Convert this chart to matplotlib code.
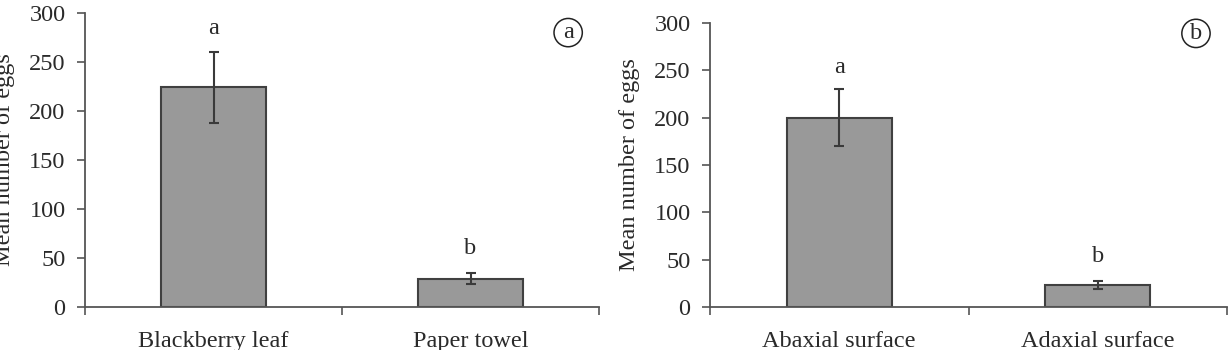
import matplotlib
matplotlib.use("Agg")
import matplotlib.pyplot as plt

# Panel a
cats_a = ["Blackberry leaf", "Paper towel"]
means_a = [224, 29]
errs_a = [36, 6]
letters_a = ["a", "b"]
letter_y_a = [284, 60]

# Panel b
cats_b = ["Abaxial surface", "Adaxial surface"]
means_b = [200, 23]
errs_b = [30, 4]
letters_b = ["a", "b"]
letter_y_b = [253, 53]

yticks = [0, 50, 100, 150, 200, 250, 300]
ylabel = "Mean number of eggs"

plt.rcParams['font.family'] = ['Liberation Serif', 'DejaVu Serif']
FS = 17.5
AX_COL = "#555555"
BAR_COL = "#999999"
EDGE_COL = "#404040"
TXT_COL = "#2a2a2a"

fig = plt.figure(figsize=(12.32, 3.5), dpi=100)
ax_a = fig.add_axes([85/1232, 1-307/350, 514/1232, 294/350])
ax_b = fig.add_axes([710/1232, 1-307/350, 517/1232, 284/350])


def draw(ax, cats, means, errs, letters, letter_y, panel, panel_y):
    pos = [0.5 + i for i in range(len(cats))]
    ax.bar(pos, means, width=0.405, color=BAR_COL, edgecolor=EDGE_COL, linewidth=1.5, zorder=2)
    ax.errorbar(pos, means, yerr=errs, fmt='none', ecolor="#3a3a3a", elinewidth=1.5,
                capsize=3.5, capthick=1.5, zorder=3)
    for p, l, ly in zip(pos, letters, letter_y):
        ax.text(p, ly, l, ha='center', va='center', fontsize=FS, color=TXT_COL)
    ax.text(1.88, panel_y, panel, ha='center', va='center', fontsize=FS, color=TXT_COL,
            bbox=dict(boxstyle='circle,pad=0.15', fc='white', ec='#222222', lw=1.1))
    ax.set_xlim(0, 2)
    ax.set_ylim(0, 300)
    ax.set_yticks(yticks)
    ax.set_yticklabels([str(t) for t in yticks], fontsize=FS, color=TXT_COL)
    ax.set_xticks([0, 1, 2])
    ax.set_xticklabels([])
    ax.set_xticks(pos, minor=True)
    ax.set_xticklabels(cats, minor=True, fontsize=FS, color=TXT_COL)
    ax.tick_params(axis='x', which='major', direction='out', length=6, width=1.2, color=AX_COL)
    ax.tick_params(axis='x', which='minor', length=0, pad=17)
    ax.tick_params(axis='y', direction='out', length=6, width=1.2, color=AX_COL, pad=8)
    for s in ['top', 'right']:
        ax.spines[s].set_visible(False)
    for s in ['left', 'bottom']:
        ax.spines[s].set_color(AX_COL)
        ax.spines[s].set_linewidth(1.3)
    ax.set_ylabel(ylabel, fontsize=FS, color=TXT_COL)
    ax.yaxis.set_label_coords(-0.136, 0.5)


draw(ax_a, cats_a, means_a, errs_a, letters_a, letter_y_a, "a", 280)
draw(ax_b, cats_b, means_b, errs_b, letters_b, letter_y_b, "b", 289)

fig.savefig("out.png", dpi=100)
